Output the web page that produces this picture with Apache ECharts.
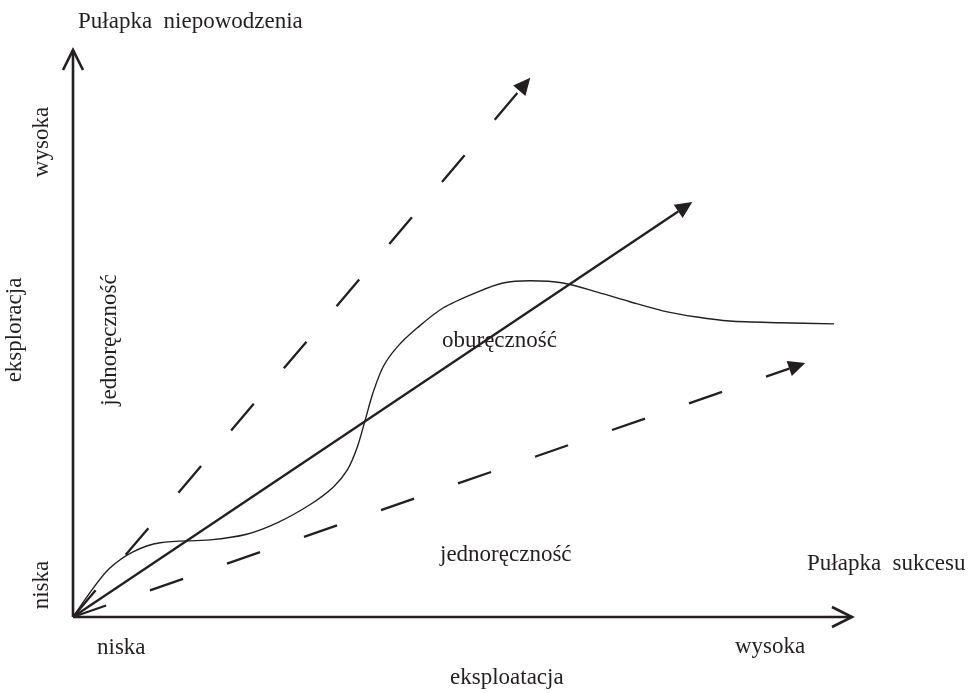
<!DOCTYPE html>
<html>
<head>
<meta charset="utf-8">
<script src="https://cdn.jsdelivr.net/npm/echarts@6/dist/echarts.min.js"></script>
<style>
  html, body { margin: 0; padding: 0; background: #fff; }
  #chart { width: 970px; height: 693px; }
</style>
</head>
<body>
<div id="chart"></div>
<script>
// axes run 0..100 on both sides (low -> high)
const AXIS_X_END = [100, 0]
const AXIS_Y_END = [0, 100]

// the three paths leaving the origin
const TRAP_FAILURE_END = [58.7, 95.1]   // dashed, steep
const AMBIDEXTERITY_END = [79.5, 73.2]  // solid
const TRAP_SUCCESS_END = [94.0, 44.8]   // dashed, shallow

// the wavy curve
const CURVE_X = [0, 2.6, 4.7, 7.7, 11.2, 17.6, 22.3, 26.2, 30.4, 33.4, 35.2, 36.5, 37.5, 38.5,
  39.8, 41.6, 44.2, 47.5, 51.9, 55.2, 58.7, 62.9, 67.3, 71.5, 75.7, 80.1, 84.3, 90.8, 97.7]
const CURVE_Y = [0, 5.1, 8.6, 11.5, 13.1, 13.6, 14.6, 16.6, 19.8, 22.9, 25.9, 30.0, 34.7, 39.5,
  44.1, 47.6, 51.0, 54.5, 57.3, 58.9, 59.3, 58.9, 57.3, 55.6, 54.0, 52.9, 52.2, 51.9, 51.7]

const INK = '#231f20'
const FONT = '23px "Liberation Serif", "Times New Roman", serif'
const DASH = [35, 46.5]

/**
 * Builds a renderItem that draws a straight arrow from the first to the second point.
 * head: 'open' for the axis chevrons, 'filled' for the path arrows.
 */
const arrowRenderer = (head, width, dash) => (params, api) => {
  const a = api.coord([api.value(0), api.value(1)])
  const b = api.coord([api.value(2), api.value(3)])
  const dx = b[0] - a[0]
  const dy = b[1] - a[1]
  const len = Math.hypot(dx, dy)
  const ux = dx / len
  const uy = dy / len
  const nx = -uy
  const ny = ux

  if (head === 'open') {
    return {
      type: 'group',
      children: [
        {
          type: 'line',
          shape: { x1: a[0], y1: a[1], x2: b[0], y2: b[1] },
          style: { stroke: INK, lineWidth: width, fill: 'none' }
        },
        {
          type: 'polyline',
          shape: {
            points: [
              [b[0] - ux * 20 + nx * 10, b[1] - uy * 20 + ny * 10],
              [b[0], b[1]],
              [b[0] - ux * 20 - nx * 10, b[1] - uy * 20 - ny * 10]
            ]
          },
          style: { stroke: INK, lineWidth: width, fill: 'none', lineJoin: 'miter' }
        }
      ]
    }
  }

  const headLen = 17
  const headHalf = 8
  const bx = b[0] - ux * headLen
  const by = b[1] - uy * headLen
  return {
    type: 'group',
    children: [
      {
        type: 'line',
        shape: { x1: a[0], y1: a[1], x2: bx, y2: by },
        style: { stroke: INK, lineWidth: width, fill: 'none', lineDash: dash || null, lineCap: 'butt' }
      },
      {
        type: 'polygon',
        shape: {
          points: [
            [b[0], b[1]],
            [bx + nx * headHalf, by + ny * headHalf],
            [bx - nx * headHalf, by - ny * headHalf]
          ]
        },
        style: { fill: INK, stroke: 'none' }
      }
    ]
  }
}

const arrowSeries = (end, head, width, dash) => ({
  type: 'custom',
  clip: false,
  silent: true,
  renderItem: arrowRenderer(head, width, dash),
  data: [[0, 0, end[0], end[1]]]
})

const label = (text, x, y, rotated) => ({
  type: 'text',
  x,
  y,
  rotation: rotated ? Math.PI / 2 : 0,
  silent: true,
  style: {
    text,
    font: FONT,
    fill: INK,
    textAlign: rotated ? 'center' : 'left',
    align: rotated ? 'center' : 'left',
    textVerticalAlign: 'middle',
    verticalAlign: 'middle'
  }
})

const chart = echarts.init(document.getElementById('chart'))

chart.setOption({
  animation: false,
  backgroundColor: '#ffffff',
  grid: { left: 73, right: 118, top: 50, bottom: 76 },
  xAxis: { type: 'value', min: 0, max: 100, show: false },
  yAxis: { type: 'value', min: 0, max: 100, show: false },
  graphic: [
    label('Pułapka  niepowodzenia', 78, 22, false),
    label('Pułapka  sukcesu', 807, 564, false),
    label('wysoka', 735, 647, false),
    label('niska', 97, 648, false),
    label('eksploatacja', 450, 678, false),
    label('jednoręczność', 440, 555, false),
    label('oburęczność', 442, 341, false),
    label('wysoka', 42, 142, true),
    label('eksploracja', 15, 330, true),
    label('jednoręczność', 110, 340, true),
    label('niska', 42, 585, true)
  ],
  series: [
    arrowSeries(AXIS_X_END, 'open', 2.6),
    arrowSeries(AXIS_Y_END, 'open', 2.6),
    arrowSeries(TRAP_FAILURE_END, 'filled', 2.3, DASH),
    arrowSeries(AMBIDEXTERITY_END, 'filled', 2.3),
    arrowSeries(TRAP_SUCCESS_END, 'filled', 2.3, DASH),
    {
      type: 'line',
      silent: true,
      smooth: 0.3,
      showSymbol: false,
      symbol: 'none',
      lineStyle: { color: INK, width: 1.4 },
      data: CURVE_X.map((x, i) => [x, CURVE_Y[i]])
    }
  ]
})
</script>
</body>
</html>
